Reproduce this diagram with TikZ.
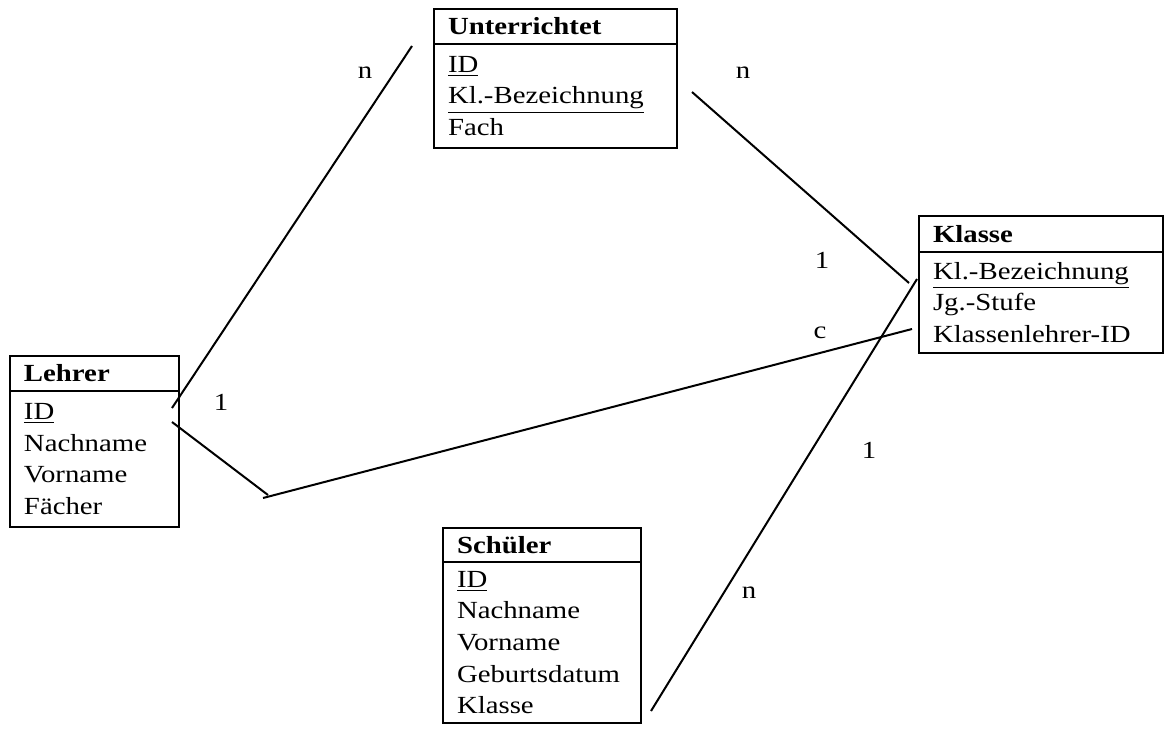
\documentclass[tikz,border=0pt]{standalone}
\usepackage{fontspec}
\setmainfont{Liberation Serif}[FakeStretch=1.17]
\usetikzlibrary{positioning}
\newcommand\tabfont{\fontsize{12.3}{15.8}\selectfont}

\begin{document}
\begin{tikzpicture}[x=0.5pt, y=-0.5pt,
  head/.style={draw, line width=1pt, outer sep=0pt, font=\tabfont\bfseries, align=left, text width=#1, inner xsep=7pt, inner ysep=0pt, anchor=north west},
  attr/.style={draw, line width=1pt, outer sep=0pt, font=\tabfont, align=left, text width=#1, inner xsep=7pt, inner ysep=0pt},
  rel/.style={line width=1pt},
  card/.style={font=\tabfont, inner sep=0pt}]
\useasboundingbox (0,0) rectangle (1165,734);
\node[head=107.5pt, minimum height=17.5pt] (unt) at (434,9) {Unterrichtet};
\node[attr=107.5pt, minimum height=52pt, below=0pt of unt] (untattr) {\underline{ID}\\\underline{Kl.-Bezeichnung}\\Fach};
\node[head=108pt, minimum height=18pt] (kla) at (919,216) {Klasse};
\node[attr=108pt, minimum height=50.5pt, below=0pt of kla] (klaattr) {\underline{Kl.-Bezeichnung}\\Jg.-Stufe\\Klassenlehrer-ID};
\node[head=70.5pt, minimum height=17.5pt] (leh) at (10,356) {Lehrer};
\node[attr=70.5pt, minimum height=68pt, below=0pt of leh] (lehattr) {\underline{ID}\\Nachname\\Vorname\\Fächer};
\node[head=85pt, minimum height=17pt] (sch) at (443,528) {Schüler};
\node[attr=85pt, minimum height=80.5pt, below=0pt of sch] (schattr) {\underline{ID}\\Nachname\\Vorname\\Geburtsdatum\\Klasse};
\coordinate (lu1) at (172,408);
\coordinate (lu2) at (412,46);
\coordinate (lk1) at (172,422);
\coordinate (lk2) at (268,495);
\coordinate (lk3) at (263,498);
\coordinate (lk4) at (912,329);
\coordinate (uk1) at (692,92);
\coordinate (uk2) at (909,283);
\coordinate (sk1) at (651,711);
\coordinate (sk2) at (917,279);
\draw[rel] (lu1) -- (lu2);
\draw[rel] (lk1) -- (lk2);
\draw[rel] (lk3) -- (lk4);
\draw[rel] (uk1) -- (uk2);
\draw[rel] (sk1) -- (sk2);
\node[card] (c1) at (365,73) {n};
\node[card] (c2) at (743,73) {n};
\node[card] (c3) at (822,260) {1};
\node[card] (c4) at (820,333) {c};
\node[card] (c5) at (869,450) {1};
\node[card] (c6) at (749,593) {n};
\node[card] (c7) at (221,402) {1};
\end{tikzpicture}
\end{document}
